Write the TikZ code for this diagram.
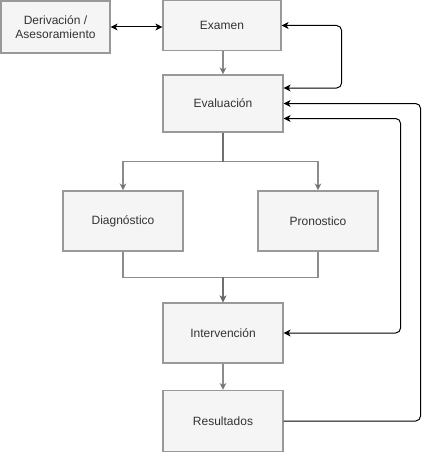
\documentclass[tikz,border=0pt]{standalone}
\usepackage{fontspec}
\setmainfont{Liberation Sans}
\usetikzlibrary{arrows.meta}
\definecolor{boxfill}{HTML}{F5F5F5}
\definecolor{boxline}{HTML}{999999}
\definecolor{txt}{HTML}{333333}
\definecolor{gline}{HTML}{666666}
\tikzset{
  box/.style={draw=boxline, fill=boxfill, line width=1.2pt, inner sep=0pt, align=center,
    text=txt, font=\fontsize{12}{14}\selectfont},
  garr/.style={draw=gline, draw opacity=0.75, fill opacity=0.75, line width=1.1pt,
    -{Stealth[length=7pt,width=7pt,inset=2pt]}},
  dbl/.style={draw=black, line width=1pt, rounded corners=5pt,
    {Stealth[length=7pt,width=7pt,inset=2pt]}-{Stealth[length=7pt,width=7pt,inset=2pt]}},
  sarr/.style={draw=black, line width=1pt, rounded corners=5pt,
    -{Stealth[length=7pt,width=7pt,inset=2pt]}},
}
\begin{document}
\begin{tikzpicture}[x=1pt,y=-1pt]
\useasboundingbox (0,0) rectangle (429,452);
\node[box, minimum width=109pt, minimum height=52pt] (deriv) at (55.5,27) {Derivación /\\Asesoramiento};
\node[box, minimum width=118pt, minimum height=50pt] (examen) at (222,25.5) {Examen};
\node[box, minimum width=120pt, minimum height=57pt] (eval) at (223,103.5) {Evaluación};
\node[box, minimum width=120pt, minimum height=60pt] (diag) at (123,221) {Diagnóstico};
\node[box, minimum width=120pt, minimum height=60pt] (pron) at (318,221) {Pronostico};
\node[box, minimum width=120pt, minimum height=60pt] (interv) at (223,333) {Intervención};
\node[box, minimum width=120pt, minimum height=61pt] (result) at (223,421) {Resultados};

% gray flow
\draw[garr] (examen.south -| eval.north) -- (eval.north);
\draw[garr] (eval.south) -- ++(0,29) -| (diag.north);
\draw[garr] (eval.south) -- ++(0,29) -| (pron.north);
\draw[garr] (diag.south) -- ++(0,26) -| (interv.north);
\draw[garr] (pron.south) -- ++(0,26) -| (interv.north);
\draw[garr] (interv.south) -- (result.north);

% black connectors
\draw[dbl] (deriv.east) -- (deriv.east -| examen.west);
\draw[dbl] ([yshift=15.5pt]eval.east) -- ++(58,0) |- (examen.east);
\draw[sarr] (result.east) -- ++(137,0) |- (eval.east);
\draw[dbl] ([yshift=-15pt]eval.east) -- ++(117,0) |- (interv.east);
\end{tikzpicture}
\end{document}
